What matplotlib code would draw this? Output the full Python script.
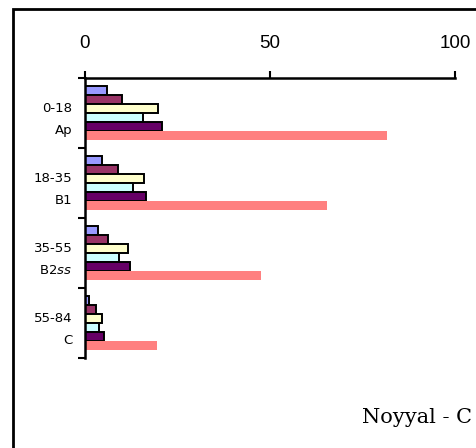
import matplotlib
matplotlib.use("Agg")
import matplotlib.pyplot as plt
from matplotlib.patches import Rectangle
import numpy as np

categories = ["0-18\nAp", "18-35\nB1", "35-55\nB2$\\mathit{ss}$", "55-84\nC"]
series_values = [
    [6.0, 4.5, 3.4, 1.1],     # blue
    [9.9, 8.8, 6.1, 2.9],     # maroon
    [19.6, 15.9, 11.5, 4.5],  # yellow
    [15.8, 13.1, 9.3, 3.9],   # cyan
    [20.9, 16.5, 12.2, 5.1],  # purple
    [81.7, 65.3, 47.5, 19.4], # salmon
]
series_colors = ["#9999FF", "#993366", "#FFFFCC", "#CCFFFF", "#660066", "#FF8080"]
series_edges = ["black", "black", "black", "black", "black", "none"]
x_ticks = [0, 50, 100]
title_text = "Noyyal - C"

W, H = 476, 448
fig = plt.figure(figsize=(W / 100, H / 100), dpi=100)
plt.rcParams['mathtext.fontset'] = 'custom'
plt.rcParams['mathtext.it'] = 'DejaVu Sans:italic'
plt.rcParams['mathtext.rm'] = 'DejaVu Sans'

ax = fig.add_axes([85 / W, 1 - 358 / H, 370 / W, 280 / H])

n = len(series_values)
bh = 0.129
y = np.arange(len(categories))
for i, (vals, c, ec) in enumerate(zip(series_values, series_colors, series_edges)):
    ax.barh(y + (i - (n - 1) / 2) * bh, vals, height=bh, color=c,
            edgecolor=ec, linewidth=1.4 if ec != "none" else 0)

ax.set_xlim(0, 100)
ax.set_ylim(len(categories) - 0.5, -0.5)

for s in ["right", "bottom"]:
    ax.spines[s].set_visible(False)
for s in ["left", "top"]:
    ax.spines[s].set_linewidth(1.8)
    ax.spines[s].set_color("black")

ax.xaxis.tick_top()
ax.set_xticks(x_ticks)
ax.set_xticklabels([str(t) for t in x_ticks], family="Liberation Sans", fontsize=13.5)
ax.tick_params(axis="x", direction="out", length=5, width=1.5, pad=13.5)

ax.set_yticks(y)
ax.set_yticklabels(categories, family="DejaVu Sans", fontsize=9.5)
ax.set_yticks(np.arange(len(categories) + 1) - 0.5, minor=True)
ax.tick_params(axis="y", which="major", length=0, pad=9)
ax.tick_params(axis="y", which="minor", direction="out", length=5, width=1.5)
for lab in ax.get_yticklabels():
    lab.set_linespacing(1.9)
    lab.set_ha("right")

fig.text(362 / W, 1 - 423 / H, title_text, family="DejaVu Serif", fontsize=15,
         ha="left", va="baseline")

fig.patches.append(Rectangle((13 / W, -0.1), 1.2, 1.1 - 9 / H, transform=fig.transFigure,
                             fill=False, edgecolor="black", linewidth=2, clip_on=False))

fig.savefig("out.png", dpi=100)
